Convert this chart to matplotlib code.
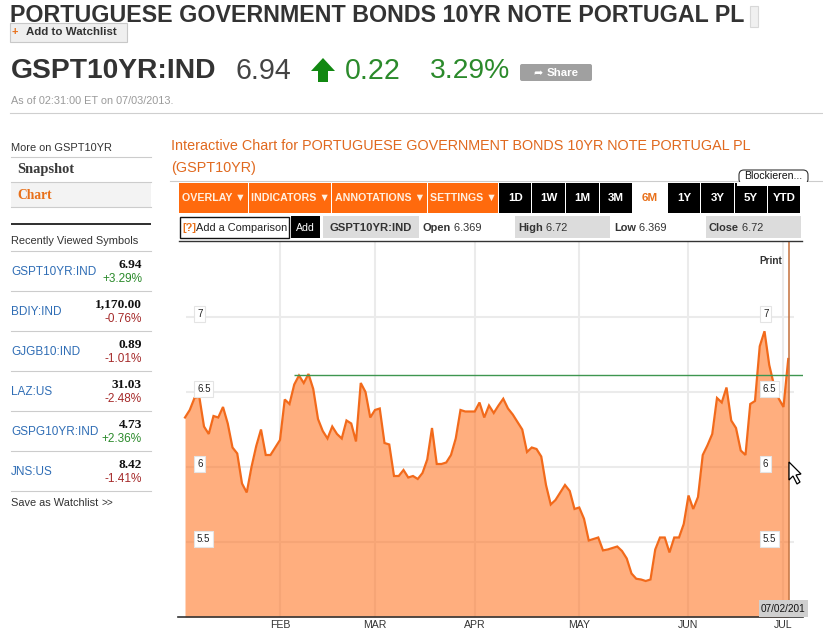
import matplotlib
matplotlib.use("Agg")
import matplotlib.pyplot as plt
from matplotlib.patches import Rectangle, Polygon, FancyBboxPatch

plt.rcParams['font.family'] = ['Liberation Sans', 'DejaVu Sans']

# ---------- data ----------
yields = [6.33, 6.38, 6.46, 6.47, 6.27, 6.22, 6.34, 6.33, 6.40, 6.29,
          6.13, 6.09, 5.89, 5.83, 6.00, 6.14, 6.25, 6.08, 6.08, 6.13,
          6.18, 6.45, 6.42, 6.55, 6.61, 6.56, 6.62, 6.52, 6.32, 6.24,
          6.19, 6.27, 6.22, 6.19, 6.31, 6.29, 6.17, 6.56, 6.50, 6.33,
          6.38, 6.39, 6.16, 6.15, 5.94, 5.94, 5.98, 5.93, 5.94, 5.92,
          5.96, 6.05, 6.26, 6.02, 6.02, 6.03, 6.08, 6.19, 6.38, 6.37,
          6.37, 6.37, 6.43, 6.33, 6.41, 6.36, 6.41, 6.455, 6.39, 6.35,
          6.30, 6.25, 6.10, 6.13, 6.12, 6.07, 5.88, 5.75, 5.78, 5.83,
          5.88, 5.84, 5.72, 5.73, 5.655, 5.51, 5.52, 5.53, 5.444, 5.45,
          5.46, 5.47, 5.44, 5.39, 5.29, 5.255, 5.25, 5.24, 5.25, 5.45,
          5.53, 5.53, 5.43, 5.53, 5.53, 5.62, 5.81, 5.72, 5.80, 6.08,
          6.145, 6.22, 6.46, 6.43, 6.53, 6.31, 6.26, 6.11, 6.08, 6.42,
          6.44, 6.805, 6.905, 6.68, 6.545, 6.456, 6.40, 6.72]
days = list(range(len(yields)))
month_labels = ['FEB', 'MAR', 'APR', 'MAY', 'JUN', 'JUL']
month_days = [20, 40, 61, 83, 106, 126]
y_levels = [5.5, 6, 6.5, 7]
y_level_labels = ['5.5', '6', '6.5', '7']
reference_level = 6.616
symbols = ['GSPT10YR:IND', 'BDIY:IND', 'GJGB10:IND', 'LAZ:US', 'GSPG10YR:IND', 'JNS:US']
prices = ['6.94', '1,170.00', '0.89', '31.03', '4.73', '8.42']
changes = ['+3.29%', '-0.76%', '-1.01%', '-2.48%', '+2.36%', '-1.41%']
ranges = ['1D', '1W', '1M', '3M', '6M', '1Y', '3Y', '5Y', 'YTD']
menus = ['OVERLAY ▼', 'INDICATORS ▼', 'ANNOTATIONS ▼', 'SETTINGS ▼']

W, H = 823, 633
ORANGE = '#FF6A0D'
LINE = '#F26A1B'
GRID = '#EBEBEB'
GREEN = '#2B8A2B'
RED = '#A52A2A'
BLUE = '#2F6DB5'

fig = plt.figure(figsize=(W / 100, H / 100), dpi=100, facecolor='white')

# ---------- chart ----------
PX0, PXSTEP = 185.0, 4.75
def day_at(px):
    return (px - PX0) / PXSTEP

ax = fig.add_axes([178 / W, (H - 617) / H, (803 - 178) / W, 375 / H], zorder=1)
ax.patch.set_alpha(0)
ax.set_xlim(day_at(178), day_at(803))
ax.set_ylim(5, 7.5)
for s in ['top', 'left', 'right']:
    ax.spines[s].set_visible(False)
ax.spines['bottom'].set_color('#333333')
ax.spines['bottom'].set_linewidth(1.2)
ax.set_yticks([])
ax.set_xticks(month_days)
ax.set_xticklabels(month_labels, fontsize=7.6, color='#333333')
ax.tick_params(axis='x', length=0, pad=2)
ax.vlines(month_days, 5, 7.5, color=GRID, lw=1.5, zorder=1)
ax.hlines(y_levels, day_at(186), day_at(794), color=GRID, lw=1.5, zorder=1)
ax.fill_between(days, yields, 5, color='#FF6F1A', alpha=0.56, lw=0, zorder=2)
ax.plot(days, yields, color=LINE, lw=1.6, solid_joinstyle='miter', zorder=3)
ax.hlines(reference_level, day_at(294), day_at(803), color='#3E9650', lw=1.0, zorder=4)
ax.axvline(day_at(789.3), color='#C4703C', lw=1.1, zorder=4)

for px in (195, 761):
    for lv, lab in zip(y_levels, y_level_labels):
        ax.text(day_at(px + 2), lv + 0.02, lab, fontsize=7, color='#222222', va='center', ha='left', zorder=6,
                bbox=dict(boxstyle='square,pad=0.3', fc='white', ec='#E4E4E4', lw=0.8))

# ---------- page furniture (pixel coordinates) ----------
ov = fig.add_axes([0, 0, 1, 1], zorder=2)
ov.set_xlim(0, W)
ov.set_ylim(H, 0)
ov.axis('off')
ov.patch.set_alpha(0)

def rect(x0, y0, x1, y1, fc, ec='none', lw=0, z=1):
    ov.add_patch(Rectangle((x0, y0), x1 - x0, y1 - y0, fc=fc, ec=ec, lw=lw, zorder=z))

def txt(x, y, s, size, color='#333333', weight='normal', ha='left', family=None, z=5, **kw):
    ov.text(x, y, s, fontsize=size * 0.72, color=color, fontweight=weight, ha=ha, va='center',
            zorder=z, family=family or ['Liberation Sans', 'DejaVu Sans'], **kw)

# header
txt(10, 16, 'PORTUGUESE GOVERNMENT BONDS 10YR NOTE PORTUGAL PL', 23.2, '#333333', 'bold')
rect(750, 6, 758, 27, '#F0F0F0', '#D8D8D8', 0.8)
rect(10, 23, 127, 42, '#EFEFEF', '#C8C8C8', 0.8, z=6)
txt(12, 32, '+', 11, '#E8701A', 'bold', z=7)
txt(26, 32, 'Add to Watchlist', 11.5, '#333333', 'bold', z=7)
txt(11, 71, 'GSPT10YR:IND', 28.3, '#333333', 'bold')
txt(236, 71, '6.94', 28.6, '#444444')
ov.add_patch(Polygon([(323, 58), (335, 71), (328, 71), (328, 82), (318, 82), (318, 71), (311, 71)],
                     fc='#118811', ec='none'))
txt(345, 71, '0.22', 28.6, GREEN)
txt(430, 71, '3.29%', 28.2, GREEN)
ov.add_patch(FancyBboxPatch((520, 64), 72, 17, boxstyle='round,pad=0,rounding_size=2', fc='#A0A0A0', ec='none', zorder=1))
txt(533, 72.5, '➦', 11, 'white', family=['DejaVu Sans'])
txt(547, 72.5, 'Share', 11.5, 'white', 'bold')
txt(11, 101, 'As of 02:31:00 ET on 07/03/2013.', 10.9, '#9A9A9A')
ov.plot([10, 823], [113, 113], color='#CFCFCF', lw=0.8)

# sidebar
SB0, SB1 = 11, 151
txt(SB0, 148, 'More on GSPT10YR', 11, '#333333')
rect(SB0, 182, SB1, 206.5, '#F3F3F3')
for y in (157, 182, 206.5, 251):
    ov.plot([SB0, SB1], [y, y], color='#CCCCCC', lw=0.8)
txt(17, 169.5, 'Snapshot', 14.5, '#3A3A3A', 'bold', family=['Liberation Serif'])
txt(17, 195.5, 'Chart', 13.5, '#E8701A', 'bold', family=['Liberation Serif'])
rect(SB0, 223, SB1, 225, '#333333')
txt(SB0, 241, 'Recently Viewed Symbols', 11, '#333333')
for k, (sym, pr, ch) in enumerate(zip(symbols, prices, changes)):
    top = 251 + 40 * k
    txt(SB0, top + 21, sym, 11.8, BLUE)
    txt(142, top + 13.5, pr, 13.4, '#111111', 'bold', ha='right', family=['Liberation Serif'])
    txt(142, top + 28.5, ch, 11.8, GREEN if ch[0] == '+' else RED, ha='right')
    ov.plot([SB0, SB1], [top + 40, top + 40], color='#CCCCCC', lw=0.8)
txt(SB0, 503, 'Save as Watchlist', 11, '#333333')
txt(102, 503, '>>', 10, '#333333')

# chart heading
CH = '#E0691F'
txt(171, 145.5, 'Interactive Chart for PORTUGUESE GOVERNMENT BONDS 10YR NOTE PORTUGAL PL', 14.45, CH)
txt(171, 168, '(GSPT10YR)', 14.45, CH)

# toolbar
ov.plot([170, 823], [181, 181], color='#CCCCCC', lw=0.8)
ov.add_patch(FancyBboxPatch((739, 170), 69, 14, boxstyle='round,pad=0,rounding_size=5', fc='white', ec='#333333', lw=0.8, zorder=3))
rect(737, 181.5, 810, 186, 'white', z=3)
txt(773.5, 176, 'Blockieren...', 10.5, '#111111', ha='center')
menu_edges = [179, 249, 332.5, 428, 499]
for k, m in enumerate(menus):
    rect(menu_edges[k], 183, menu_edges[k + 1] - 1, 213, ORANGE)
    txt((menu_edges[k] + menu_edges[k + 1]) / 2, 198, m, 10.6, '#FFF0E0', 'bold', ha='center')
range_edges = [499, 532.5, 566, 600, 633, 668, 701, 734.6, 768, 801]
for k, r in enumerate(ranges):
    x0, x1 = range_edges[k], range_edges[k + 1]
    active = r == '6M'
    rect(x0, 183, x1 - 1, 213, 'white' if active else '#000000')
    txt((x0 + x1) / 2 - 0.5, 198, r, 11.5, '#E8701A' if active else 'white', 'bold', ha='center')

# comparison row
rect(180, 217, 289.5, 238, 'white', '#111111', 1.0)
txt(182, 228, '[?]', 11, '#E8701A', 'bold')
txt(196, 228, 'Add a Comparison', 11, '#222222')
rect(291, 216, 320, 238, '#000000')
txt(305.5, 228, 'Add', 10.5, 'white', ha='center')
rect(323, 216, 419, 238, '#DCDCDC')
txt(330, 228, 'GSPT10YR:IND', 11.2, '#333333', 'bold')
rect(515, 216, 610, 238, '#DCDCDC')
rect(706, 216, 801, 238, '#DCDCDC')
for x, k, v in [(423, 'Open', '6.369'), (518, 'High', '6.72'), (614, 'Low', '6.369'), (709, 'Close', '6.72')]:
    t = ov.text(x, 228, k, fontsize=11 * 0.72, color='#333333', fontweight='bold', va='center', zorder=5)
    ov.annotate(' ' + v, xy=(1, 0.5), xycoords=t, fontsize=11 * 0.72, color='#333333', va='center', zorder=5)
ov.plot([179, 802], [241, 241], color='#333333', lw=1.0)
txt(759, 260.5, 'Print', 10, '#333333', 'bold')

# date tag
rect(759, 600, 808, 617, '#CFCFCF', z=3)
txt(760.5, 608.5, '07/02/201', 10, '#111111')

# mouse cursor
ov.add_patch(Polygon([(789, 462), (789, 480), (793, 476), (797, 484), (800, 482), (796, 475), (801, 474)],
                     fc='white', ec='black', lw=0.9, zorder=8))

fig.savefig('out.png', dpi=100, facecolor='white')
